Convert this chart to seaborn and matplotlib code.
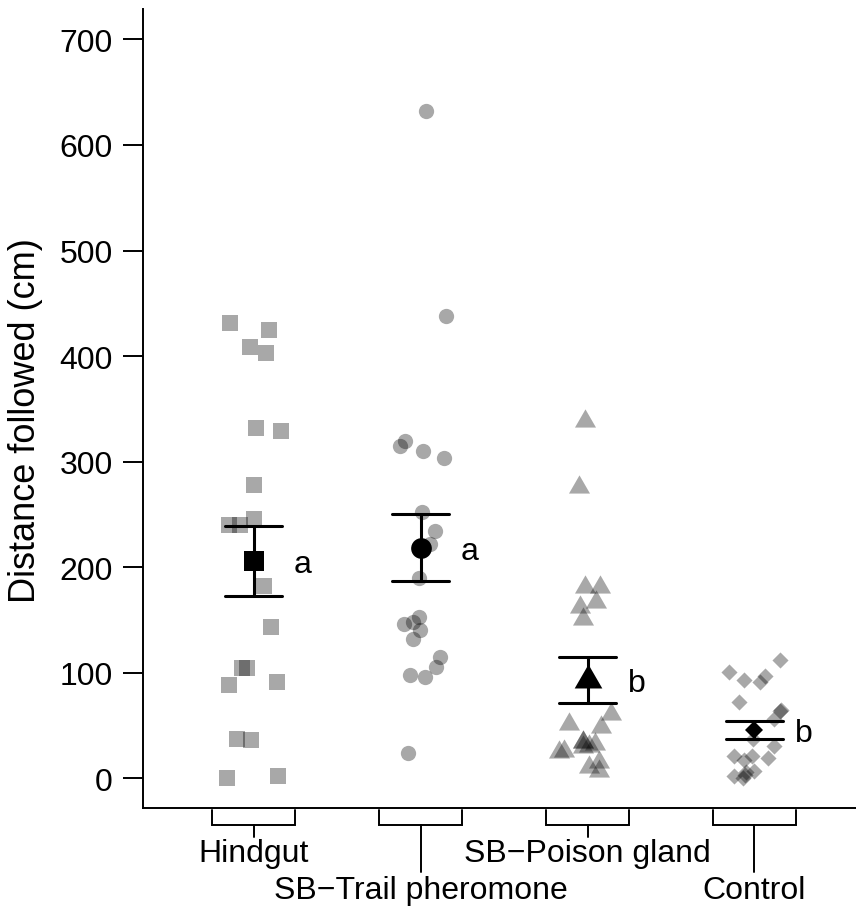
import numpy as np
import matplotlib
matplotlib.use("Agg")
import matplotlib.pyplot as plt
from matplotlib.transforms import blended_transform_factory
import seaborn as sns

# Treatments, in plotting order, with significance letters
groups = ["Hindgut", "SB\u2212Trail pheromone", "SB\u2212Poison gland", "Control"]
letters = ["a", "a", "b", "b"]

# Distance followed (cm) by each individual, per treatment
hindgut = [431.3, 424.7, 408.3, 402.9, 329.3, 331.6, 278.1, 240.2, 240.2, 245.6,
           182.5, 143.0, 104.2, 88.4, 104.2, 90.9, 37.5, 36.0, 1.9, 0.3]
trail = [632.0, 438.2, 319.2, 310.4, 303.4, 314.5, 252.0, 234.6, 222.0, 189.8,
         146.2, 140.8, 147.8, 152.5, 132.0, 114.6, 105.2, 97.9, 96.3, 23.7]
poison = [338.8, 275.7, 166.7, 162.0, 180.9, 180.9, 150.9, 60.9, 51.4, 48.3,
          29.4, 34.1, 32.5, 30.9, 34.1, 24.6, 26.1, 15.2, 10.4, 7.2]
control = [112.4, 97.2, 100.4, 93.4, 90.9, 72.6, 64.7, 64.0, 56.2, 37.3,
           30.9, 21.4, 17.6, 20.8, 19.7, 7.2, 2.5, 5.7, 3.1, 0.0]

y_ticks = [0, 100, 200, 300, 400, 500, 600, 700]

sns.set_style("ticks")
plt.rcParams["font.family"] = ["Liberation Sans", "DejaVu Sans"]
for key in ["text.color", "axes.labelcolor", "xtick.color", "ytick.color",
            "axes.edgecolor"]:
    plt.rcParams[key] = "black"

FS = 23
W, H = 856, 912
fig = plt.figure(figsize=(W / 100, H / 100), dpi=100)
ax = fig.add_axes([142.7 / W, 1 - 809.3 / H, 1 - 142.7 / W, (809.3 - 10) / H])

# equilateral triangle centred on its centroid (like R's pch 17)
tri = [(0.0, 1.0), (-0.866, -0.5), (0.866, -0.5)]

series = [hindgut, trail, poison, control]
pt_markers = ["s", "o", tri, "D"]
pt_sizes = [11.0, 11.0, 17.5, 8.2]
mean_sizes = [14.9, 14.9, 23.0, 9.6]

np.random.seed(7)
for name, vals, mk, sz in zip(groups, series, pt_markers, pt_sizes):
    sns.stripplot(x=[name] * len(vals), y=vals, order=groups, jitter=0.17,
                  color="black", alpha=0.34, marker=mk, size=sz,
                  linewidth=0, ax=ax, zorder=1)

for i, (name, vals, mk, ms, let) in enumerate(zip(groups, series, pt_markers,
                                                   mean_sizes, letters)):
    sns.pointplot(x=[name] * len(vals), y=vals, order=groups, errorbar="se",
                  capsize=0.34, color="black", marker=mk, markersize=ms,
                  markeredgewidth=0, linestyle="none",
                  err_kws={"linewidth": 2.2}, ax=ax, zorder=3)
    ax.annotate(let, xy=(i, np.mean(vals)), xytext=(29, -8),
                textcoords="offset points", ha="left", va="baseline",
                fontsize=FS, color="black")

ax.set_xlim(-0.664, 3.608)
ax.set_ylim(-28.4, 728.8)
ax.set_yticks(y_ticks)
ax.set_yticklabels([str(t) for t in y_ticks])
ax.tick_params(axis="y", length=14.4, width=1.4, pad=7.0, labelsize=FS,
               colors="black")
ax.tick_params(axis="x", length=0, labelbottom=False)
ax.set_xlabel("")
ax.set_ylabel("Distance followed (cm)", fontsize=26, color="black")
ax.yaxis.set_label_coords(-0.1395, 0.4864)
for side in ["top", "right"]:
    ax.spines[side].set_visible(False)
for side in ["left", "bottom"]:
    ax.spines[side].set_linewidth(1.4)
    ax.spines[side].set_color("black")

# bracket-style category axis below the plot
trans = blended_transform_factory(ax.transData, fig.transFigure)


def fy(p):
    return 1 - p / H


half = 0.25
for i, name in enumerate(groups):
    ax.plot([i - half, i - half, i + half, i + half],
            [fy(811), fy(826), fy(826), fy(811)], transform=trans,
            clip_on=False, color="black", lw=1.4, solid_joinstyle="miter")
    stem_end = 838 if i % 2 == 0 else 873
    ax.plot([i, i], [fy(826), fy(stem_end)], transform=trans, clip_on=False,
            color="black", lw=1.4)
    ax.text(i, fy(862 if i % 2 == 0 else 899), name, transform=trans,
            ha="center", va="baseline", fontsize=FS, color="black")

fig.savefig("out.png", dpi=100)
